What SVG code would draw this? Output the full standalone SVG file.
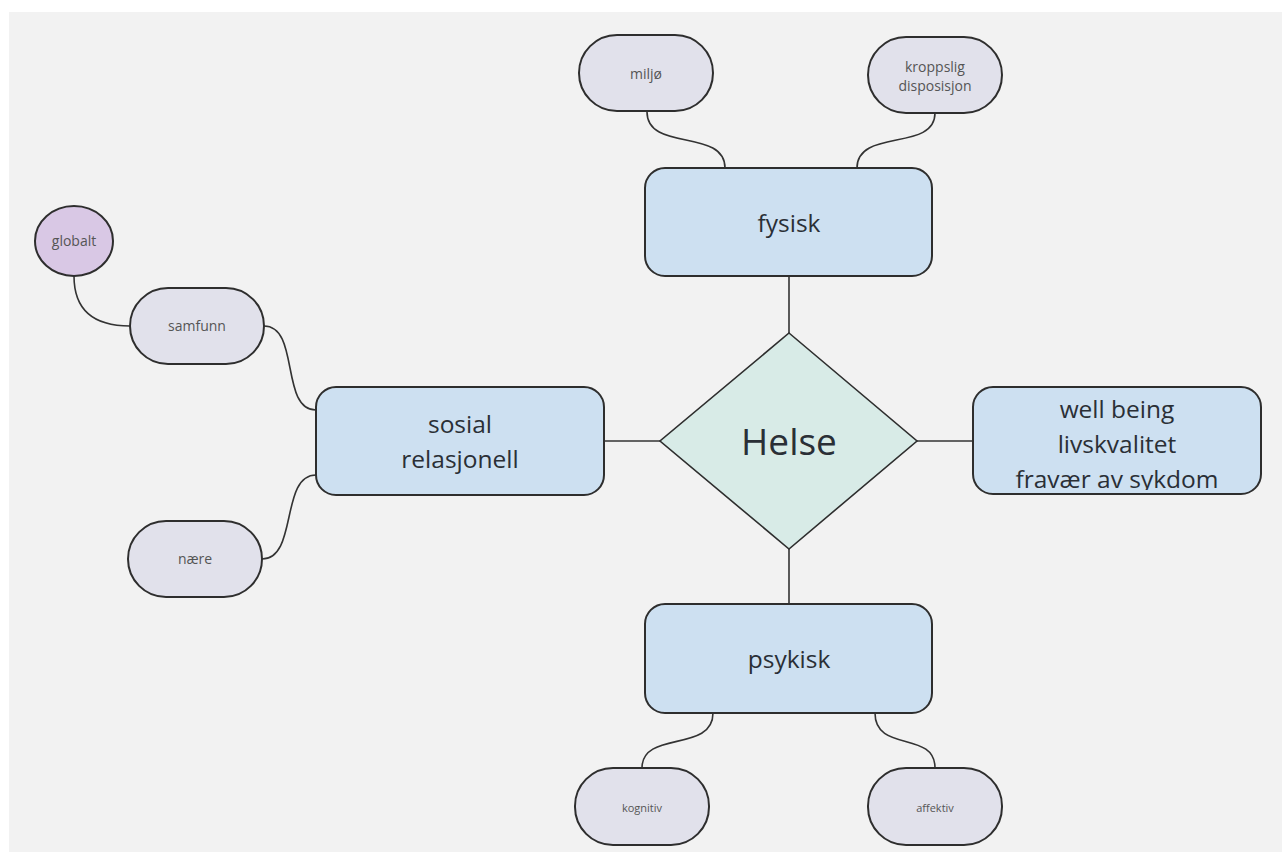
<svg xmlns="http://www.w3.org/2000/svg" width="1282" height="852" viewBox="0 0 1282 852">
<defs>
<style>
.box{fill:#cde0f1;stroke:#2e2e2e;stroke-width:2}
.pill{fill:#e1e1eb;stroke:#2e2e2e;stroke-width:2}
.glob{fill:#d9c8e5;stroke:#2e2e2e;stroke-width:2}
.dia{fill:#d8ebe7;stroke:#2e2e2e;stroke-width:1.6}
.con{fill:none;stroke:#333;stroke-width:1.6}
.big{font-family:"Open Sans","Liberation Sans",sans-serif;font-size:24.5px;fill:#2a2f36;text-anchor:middle}
.sm{font-family:"Open Sans","Liberation Sans",sans-serif;font-size:14px;fill:#555;text-anchor:middle}
.xs{font-family:"Open Sans","Liberation Sans",sans-serif;font-size:11px;fill:#555;text-anchor:middle}
</style>
<clipPath id="wbclip"><rect x="973" y="387" width="289" height="103"/></clipPath>
</defs>
<rect x="0" y="0" width="1282" height="852" fill="#ffffff"/>
<rect x="9" y="12" width="1273" height="840" fill="#f2f2f2"/>

<g id="connectors">
<path class="con" d="M789,277 V333"/>
<path class="con" d="M789,549 V604"/>
<path class="con" d="M604,441 H660"/>
<path class="con" d="M917,441 H973"/>
<path class="con" d="M647,112 C647,152 725,128 725,168"/>
<path class="con" d="M935,113 C935,152 857,128 857,168"/>
<path class="con" d="M713,713 C713,753 642,730 642,768"/>
<path class="con" d="M875,713 C875,753 935,730 935,768"/>
<path class="con" d="M74,276 C74,315 100,326 130,326"/>
<path class="con" d="M264,326 C300,326 280,410 316,410"/>
<path class="con" d="M262,559 C298,559 280,475 316,475"/>
</g>

<g id="helse">
<polygon class="dia" points="789,333 917,441 789,549 660,441"/>
<text x="789" y="455" style="font-family:'Open Sans','Liberation Sans',sans-serif;font-size:37px;fill:#2a2f36;text-anchor:middle">Helse</text>
</g>

<g id="fysisk">
<rect class="box" x="645" y="168" width="287" height="108" rx="20"/>
<text class="big" x="789" y="232">fysisk</text>
</g>

<g id="psykisk">
<rect class="box" x="645" y="604" width="287" height="109" rx="20"/>
<text class="big" x="789" y="668">psykisk</text>
</g>

<g id="sosial">
<rect class="box" x="316" y="387" width="288" height="108" rx="20"/>
<text class="big" x="460" y="433">sosial</text>
<text class="big" x="460" y="468">relasjonell</text>
</g>

<g id="wellbeing">
<rect class="box" x="973" y="387" width="288" height="107" rx="20"/>
<g clip-path="url(#wbclip)">
<text class="big" x="1117" y="418">well being</text>
<text class="big" x="1117" y="453">livskvalitet</text>
<text class="big" x="1117" y="488">fravær av sykdom</text>
</g>
</g>

<g id="miljo">
<rect class="pill" x="579" y="35" width="134" height="76" rx="38"/>
<text class="sm" x="646" y="79">miljø</text>
</g>

<g id="kroppslig">
<rect class="pill" x="868" y="37" width="134" height="76" rx="38"/>
<text class="sm" x="935" y="72">kroppslig</text>
<text class="sm" x="935" y="91">disposisjon</text>
</g>

<g id="kognitiv">
<rect class="pill" x="575" y="768" width="134" height="77" rx="38"/>
<text class="xs" x="642" y="812">kognitiv</text>
</g>

<g id="affektiv">
<rect class="pill" x="868" y="768" width="134" height="77" rx="38"/>
<text class="xs" x="935" y="812">affektiv</text>
</g>

<g id="samfunn">
<rect class="pill" x="130" y="288" width="134" height="76" rx="38"/>
<text class="sm" x="197" y="331">samfunn</text>
</g>

<g id="naere">
<rect class="pill" x="128" y="521" width="134" height="76" rx="38"/>
<text class="sm" x="195" y="564">nære</text>
</g>

<g id="globalt">
<ellipse class="glob" cx="74" cy="241" rx="39" ry="35"/>
<text class="sm" x="74" y="246">globalt</text>
</g>
</svg>
